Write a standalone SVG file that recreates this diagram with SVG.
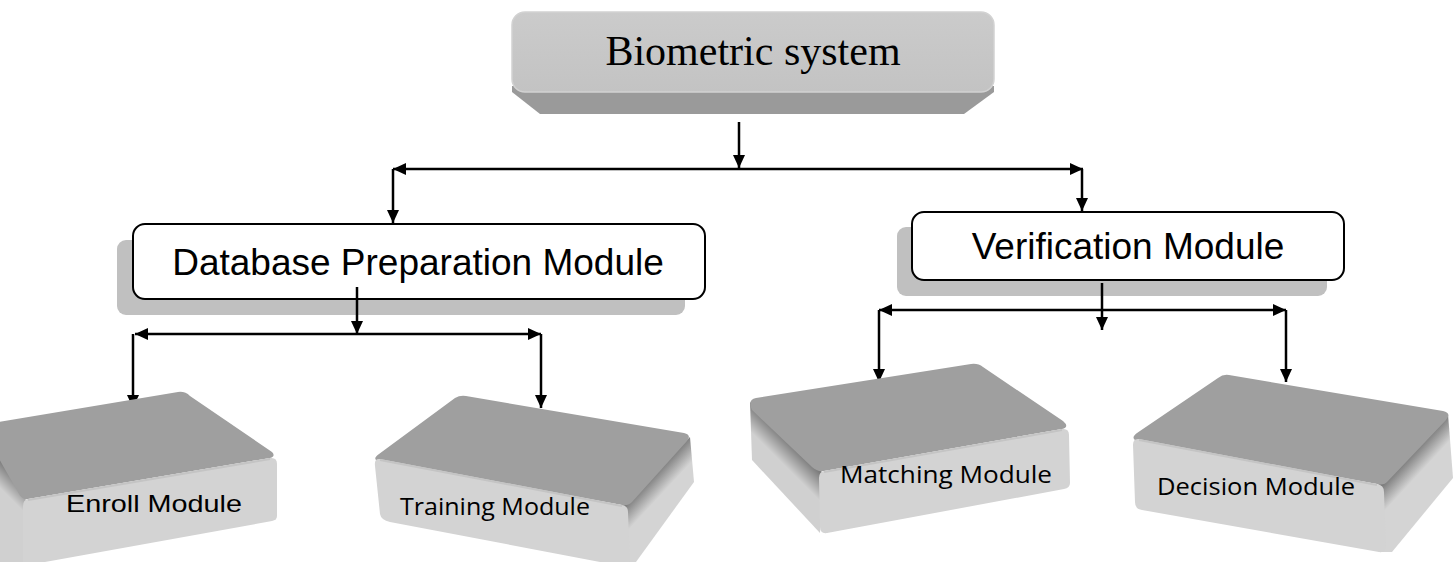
<svg xmlns="http://www.w3.org/2000/svg" width="1456" height="562" viewBox="0 0 1456 562">
<style>
.conn{fill:none;stroke:#000;stroke-width:2.5}
.box{fill:#fff;stroke:#000;stroke-width:2}
.shadow{fill:#c0c0c0}
.lbl{font-family:"Liberation Sans",Arial,sans-serif;font-size:37px;fill:#000;text-anchor:middle}
.blk{font-family:"Open Sans","Noto Sans","Liberation Sans",sans-serif;font-size:24px;fill:#000}
.topf{fill:#9f9f9f}
.front{fill:#d3d3d3}
.hl{fill:none;stroke:#c4c4c4;stroke-width:2}
</style>
<defs>
<marker id="ah" viewBox="0 0 13 12" refX="13" refY="6" markerWidth="13" markerHeight="12" markerUnits="userSpaceOnUse" orient="auto-start-reverse">
<path d="M0,0 L13,6 L0,12 Z" fill="#000"/>
</marker>
<linearGradient id="gEnroll" gradientUnits="userSpaceOnUse" x1="2" y1="462" x2="-12" y2="476">
<stop offset="0" stop-color="#7c7c7c"/><stop offset="1" stop-color="#d0d0d0"/></linearGradient>
<linearGradient id="gMatch" gradientUnits="userSpaceOnUse" x1="784" y1="437" x2="770" y2="451">
<stop offset="0" stop-color="#7c7c7c"/><stop offset="1" stop-color="#d0d0d0"/></linearGradient>
<linearGradient id="gTrain" gradientUnits="userSpaceOnUse" x1="658" y1="470" x2="672" y2="483">
<stop offset="0" stop-color="#7c7c7c"/><stop offset="1" stop-color="#d4d4d4"/></linearGradient>
<linearGradient id="gDec" gradientUnits="userSpaceOnUse" x1="1416" y1="449" x2="1430" y2="462">
<stop offset="0" stop-color="#7c7c7c"/><stop offset="1" stop-color="#d4d4d4"/></linearGradient>
<linearGradient id="gTop" x1="0" y1="0" x2="0" y2="1">
<stop offset="0" stop-color="#cbcbcb"/><stop offset="1" stop-color="#c3c3c3"/></linearGradient>
</defs>

<g id="connectors">
<path class="conn" d="M739,122 V168" marker-end="url(#ah)"/>
<path class="conn" d="M393,169 H1083" marker-start="url(#ah)" marker-end="url(#ah)"/>
<path class="conn" d="M393,169 V223" marker-end="url(#ah)"/>
<path class="conn" d="M1082,169 V211" marker-end="url(#ah)"/>
<path class="conn" d="M135,334 H541" marker-start="url(#ah)" marker-end="url(#ah)"/>
<path class="conn" d="M133,334 V408" marker-end="url(#ah)"/>
<path class="conn" d="M541,334 V408" marker-end="url(#ah)"/>
<path class="conn" d="M879,310 H1286" marker-start="url(#ah)" marker-end="url(#ah)"/>
<path class="conn" d="M879,310 V382" marker-end="url(#ah)"/>
<path class="conn" d="M1286,310 V382" marker-end="url(#ah)"/>
</g>

<g id="biometric">
<path d="M512,86 L994,86 L994,92 L964,114 L540,114 L512,92 Z" fill="#9a9a9a"/>
<rect x="512" y="12" width="482" height="80" rx="13" fill="url(#gTop)" stroke="#d2d2d2" stroke-width="1.5"/>
<text x="753" y="65" style="font-family:'Liberation Serif','Times New Roman',serif;font-size:42px;fill:#000" text-anchor="middle">Biometric system</text>
</g>

<g id="dbprep">
<rect class="shadow" x="117" y="240" width="568" height="75" rx="9"/>
<rect class="box" x="133" y="224" width="572" height="75" rx="12"/>
<text class="lbl" x="418" y="275">Database Preparation Module</text>
<path class="conn" d="M357,287 V334" marker-end="url(#ah)"/>
</g>

<g id="verification">
<rect class="shadow" x="897" y="227" width="430" height="69" rx="9"/>
<rect class="box" x="912" y="212" width="432" height="68" rx="12"/>
<text class="lbl" x="1128" y="259">Verification Module</text>
<path class="conn" d="M1102,283 V330" marker-end="url(#ah)"/>
</g>

<g id="enroll">
<polygon points="-20,425 26,500 25,562 -20,562" fill="url(#gEnroll)"/>
<path class="topf" d="M-20,425 L178,392 Q185,391 190,396 L272,452 Q276,456 270,458 L28,499 Q22,500 19,494 Z"/>
<path class="front" d="M28,499 L270,458 Q277,457 277,464 L277,516 Q277,520 272,521 L45,562 L23,562 L23,506 Q23,500 28,499 Z"/>
<path class="hl" d="M28,500 L270,459"/>
<text class="blk" x="66" y="512" textLength="176" lengthAdjust="spacingAndGlyphs" style="font-family:'Liberation Sans',Arial,sans-serif">Enroll Module</text>
</g>

<g id="training">
<polygon points="622,505 690,437 694,482 636,562 626,562" fill="url(#gTrain)"/>
<path class="topf" d="M379,454 L455,398 Q460,395 466,396 L684,433 Q692,435 687,441 L632,502 Q628,506 622,505 L378,461 Q372,459 379,454 Z"/>
<path class="front" d="M380,459 L622,505 Q628,506 628,512 L630,562 L600,562 L390,522 Q381,520 380,514 L375,466 Q374,458 380,459 Z"/>
<path class="hl" d="M380,460 L622,506"/>
<text class="blk" x="400" y="515" textLength="190" lengthAdjust="spacingAndGlyphs">Training Module</text>
</g>

<g id="matching">
<polygon points="750,402 822,472 820,533 752,460" fill="url(#gMatch)"/>
<path class="topf" d="M756,398 L971,364 Q978,363 983,367 L1063,421 Q1070,427 1062,429 L824,471 Q817,472 812,467 L752,410 Q747,400 756,398 Z"/>
<path class="front" d="M824,471 L1062,429 Q1069,428 1069,435 L1070,483 Q1070,488 1064,489 L827,533 Q820,534 820,527 L819,478 Q819,472 824,471 Z"/>
<path class="hl" d="M824,472 L1062,430"/>
<text class="blk" x="840" y="483" textLength="212" lengthAdjust="spacingAndGlyphs">Matching Module</text>
</g>

<g id="decision">
<polygon points="1378,485 1448,414 1453,478 1392,552 1382,552" fill="url(#gDec)"/>
<path class="topf" d="M1137,433 L1218,378 Q1223,374 1229,375 L1443,411 Q1452,413 1446,420 L1388,481 Q1384,486 1377,484 L1137,441 Q1130,438 1137,433 Z"/>
<path class="front" d="M1139,439 L1377,484 Q1384,485 1384,492 L1386,546 Q1386,553 1379,552 L1142,510 Q1135,509 1135,502 L1133,445 Q1133,438 1139,439 Z"/>
<path class="hl" d="M1139,440 L1377,485"/>
<text class="blk" x="1157" y="495" textLength="198" lengthAdjust="spacingAndGlyphs">Decision Module</text>
</g>
</svg>
